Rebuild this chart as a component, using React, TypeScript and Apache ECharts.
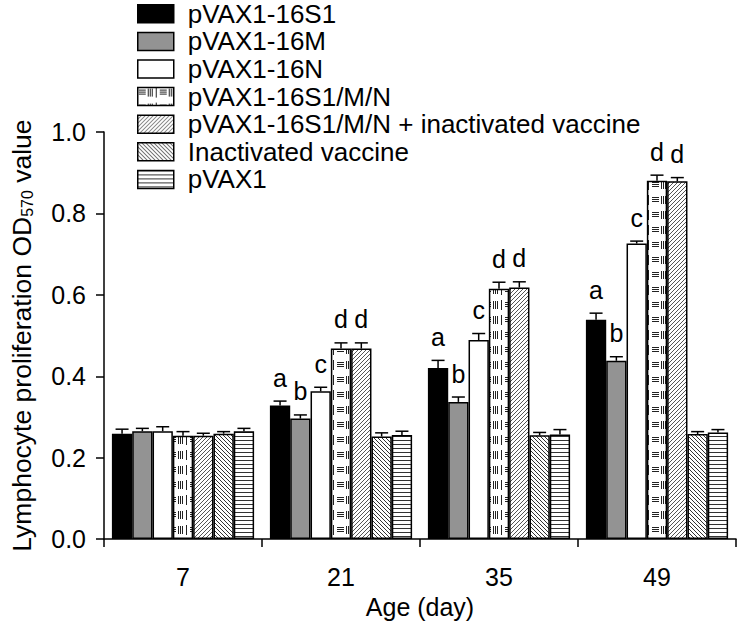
import React, { useEffect, useRef } from "react";
import * as echarts from "echarts";

const days = ["7", "21", "35", "49"];
const seriesNames = [
  "pVAX1-16S1",
  "pVAX1-16M",
  "pVAX1-16N",
  "pVAX1-16S1/M/N",
  "pVAX1-16S1/M/N + inactivated vaccine",
  "Inactivated vaccine",
  "pVAX1",
];
const v16S1 = [0.259, 0.328, 0.42, 0.539];
const v16M = [0.265, 0.296, 0.337, 0.438];
const v16N = [0.265, 0.363, 0.489, 0.726];
const v16SMN = [0.254, 0.468, 0.615, 0.88];
const v16SMNiv = [0.254, 0.468, 0.618, 0.879];
const vIV = [0.259, 0.252, 0.255, 0.258];
const vPVAX = [0.265, 0.256, 0.257, 0.262];

const e16S1 = [0.011, 0.011, 0.019, 0.016];
const e16M = [0.007, 0.009, 0.012, 0.01];
const e16N = [0.011, 0.01, 0.016, 0.006];
const e16SMN = [0.01, 0.014, 0.016, 0.014];
const e16SMNiv = [0.006, 0.014, 0.014, 0.009];
const eIV = [0.005, 0.009, 0.007, 0.006];
const ePVAX = [0.007, 0.009, 0.012, 0.007];

const l16S1 = ["", "a", "a", "a"];
const l16M = ["", "b", "b", "b"];
const l16N = ["", "c", "c", "c"];
const l16SMN = ["", "d", "d", "d"];
const l16SMNiv = ["", "d", "d", "d"];
const lIV = ["", "", "", ""];
const lPVAX = ["", "", "", ""];

const yTicks = [0, 0.2, 0.4, 0.6, 0.8, 1.0];

const allValues = [v16S1, v16M, v16N, v16SMN, v16SMNiv, vIV, vPVAX];
const allErrors = [e16S1, e16M, e16N, e16SMN, e16SMNiv, eIV, ePVAX];
const allLetters = [l16S1, l16M, l16N, l16SMN, l16SMNiv, lIV, lPVAX];

const FONT = "'Liberation Sans', Arial, Helvetica, sans-serif";

function makeTile(w: number, h: number, on: (x: number, y: number) => boolean, color: string) {
  const c = document.createElement("canvas");
  c.width = w;
  c.height = h;
  const ctx = c.getContext("2d")!;
  ctx.fillStyle = "#ffffff";
  ctx.fillRect(0, 0, w, h);
  ctx.fillStyle = color;
  for (let y = 0; y < h; y++) {
    for (let x = 0; x < w; x++) {
      if (on(x, y)) ctx.fillRect(x, y, 1, 1);
    }
  }
  return { image: c, repeat: "repeat" } as any;
}

function buildFills() {
  const mixed = makeTile(
    21,
    15,
    (x, y) => {
      if (x >= 1 && x <= 7 && (y === 2 || y === 4 || y === 6)) return true;
      if ((x === 10 || x === 12 || x === 14) && y >= 1 && y <= 8) return true;
      if (x === 18 && y >= 0 && y <= 9) return true;
      return false;
    },
    "#222222"
  );
  const fwd = makeTile(4, 4, (x, y) => x === 3 - y, "#555555");
  const back = makeTile(4, 4, (x, y) => x === y, "#333333");
  const horiz = makeTile(4, 4, (x, y) => y === 0, "#333333");
  return ["#000000", "#939393", "#ffffff", mixed, fwd, back, horiz];
}

export default function App() {
  const ref = useRef<HTMLDivElement>(null);
  useEffect(() => {
    if (!ref.current) return;
    const chart = echarts.init(ref.current, null, { renderer: "svg" });
    const fills = buildFills();
    const nS = seriesNames.length;
    const catGap = 0.1;

    const barSeries = seriesNames.map((name, i) => ({
      name,
      type: "bar",
      data: allValues[i],
      barGap: "0%",
      barCategoryGap: "10%",
      itemStyle: { color: fills[i], borderColor: "#000", borderWidth: 1.5 },
      emphasis: { disabled: true },
    }));

    const errItems: any[] = [];
    allValues.forEach((vals, s) => {
      vals.forEach((v, c) => {
        errItems.push([c, s, v, allErrors[s][c]]);
      });
    });

    const errSeries = {
      type: "custom",
      name: "errors",
      data: errItems,
      encode: { x: 0, y: 2 },
      z: 5,
      renderItem: (params: any, api: any) => {
        const c = api.value(0);
        const s = api.value(1);
        const v = api.value(2);
        const e = api.value(3);
        const band = api.size([1, 0])[0];
        const barW = (band * (1 - catGap)) / nS;
        const center = api.coord([c, v]);
        const x = center[0] - (band * (1 - catGap)) / 2 + (s + 0.5) * barW;
        const yTop = center[1];
        const yErr = api.coord([c, v + e])[1];
        const half = 6.5;
        const children: any[] = [
          { type: "line", shape: { x1: x, y1: yTop, x2: x, y2: yErr }, style: { stroke: "#000", lineWidth: 1.5 } },
          { type: "line", shape: { x1: x - half, y1: yErr, x2: x + half, y2: yErr }, style: { stroke: "#000", lineWidth: 1.5 } },
        ];
        const letter = allLetters[s][c];
        if (letter) {
          children.push({
            type: "text",
            x: x,
            y: yErr - 11,
            style: {
              text: letter,
              fontSize: 25,
              fontFamily: FONT,
              fill: "#000",
              align: "center",
              verticalAlign: "bottom",
            },
          });
        }
        return { type: "group", children };
      },
    };

    chart.setOption({
      animation: false,
      backgroundColor: "#ffffff",
      textStyle: { fontFamily: FONT },
      legend: {
        data: seriesNames,
        orient: "vertical",
        left: 132,
        top: -5,
        itemWidth: 36,
        itemHeight: 18,
        itemGap: 0,
        icon: "rect",
        selectedMode: false,
        textStyle: {
          fontSize: 26,
          color: "#000",
          fontFamily: FONT,
          lineHeight: 27.6,
          padding: [0, 0, 0, 9],
        },
        itemStyle: { borderColor: "#000", borderWidth: 1.5 },
      },
      grid: { left: 95, right: 1, top: 132, bottom: 82, containLabel: false },
      xAxis: {
        type: "category",
        data: days,
        axisLine: { show: true, lineStyle: { color: "#000", width: 1.5 } },
        axisTick: { show: true, length: 8, lineStyle: { color: "#000", width: 1.5 } },
        axisLabel: { fontSize: 25, color: "#000", margin: 25, fontFamily: FONT },
        name: "Age (day)",
        nameLocation: "middle",
        nameGap: 52,
        nameTextStyle: { fontSize: 25, color: "#000", fontFamily: FONT },
        splitLine: { show: false },
      },
      yAxis: {
        type: "value",
        min: yTicks[0],
        max: yTicks[yTicks.length - 1],
        interval: 0.2,
        axisLine: { show: true, lineStyle: { color: "#000", width: 1.5 } },
        axisTick: { show: true, length: 8, lineStyle: { color: "#000", width: 1.5 } },
        axisLabel: {
          fontSize: 25,
          color: "#000",
          margin: 18,
          fontFamily: FONT,
          formatter: (v: number) => v.toFixed(1),
        },
        splitLine: { show: false },
        name: "{a|Lymphocyte proliferation OD}{s|570}{a| value}",
        nameLocation: "middle",
        nameGap: 69,
        nameRotate: 90,
        nameTextStyle: {
          color: "#000",
          fontFamily: FONT,
          rich: {
            a: { fontSize: 26.5, fontFamily: FONT, color: "#000" },
            s: { fontSize: 16, fontFamily: FONT, color: "#000", verticalAlign: "bottom" },
          },
        },
      },
      series: [...barSeries, errSeries],
    } as any);
    return () => chart.dispose();
  }, []);
  return (
    <div
      ref={ref}
      style={{ position: "fixed", left: 0, top: 0, width: 737, height: 624, background: "#fff" }}
    />
  );
}
